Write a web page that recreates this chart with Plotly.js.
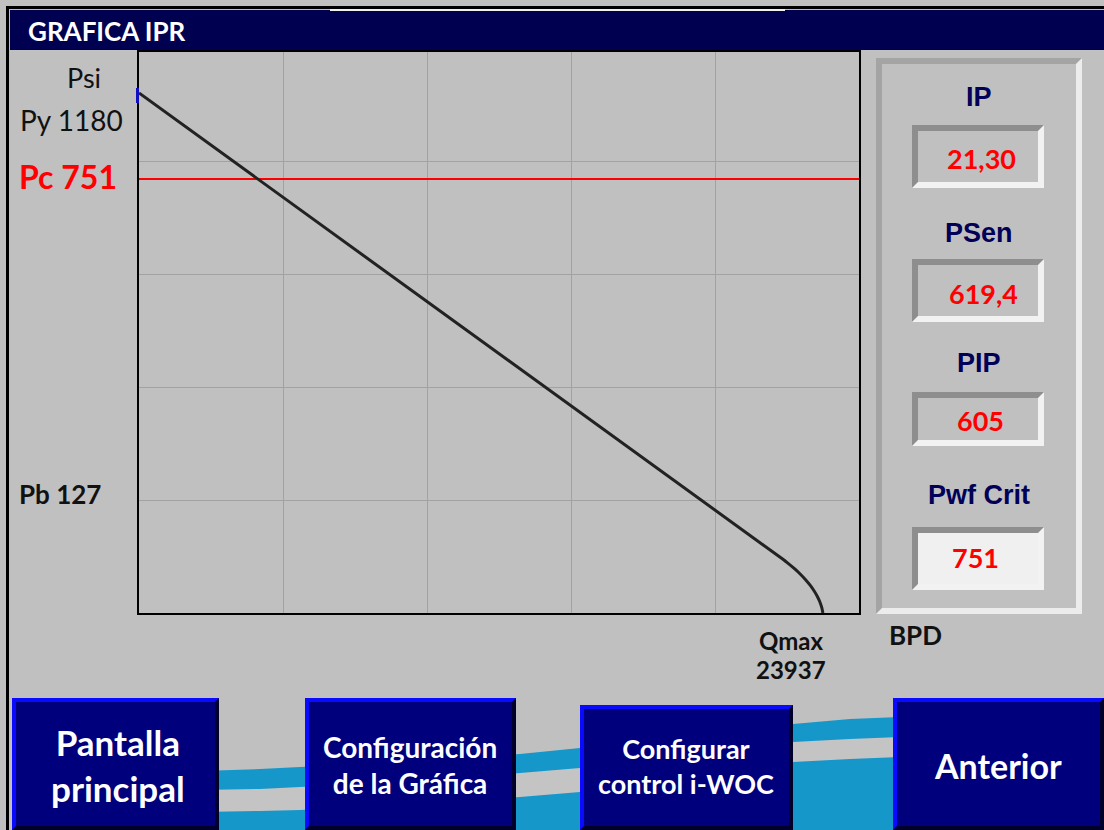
<!DOCTYPE html>
<html><head><meta charset="utf-8">
<script src="https://cdn.plot.ly/plotly-3.0.1.min.js"></script>
<style>html,body{margin:0;padding:0;background:#c0c0c0;overflow:hidden}#chart{width:1104px;height:830px}</style>
</head><body><div id="chart"></div>
<script>
// ---- data ----
const flowBPD     = [0, 22429, 22675, 22952, 23149, 23338, 23502, 23631, 23747, 23831, 23898, 23937];
const pressurePsi = [1180, 127, 115, 100, 88, 75, 62, 50, 37, 25, 12, 0];
const pcLineFlow  = [0, 25200];
const pcLinePsi   = [985, 985];
const axisRangeQ  = [0, 25200];
const axisRangeP  = [0, 1273];
const leftLabels  = ["Psi", "Py 1180", "Pc 751", "Pb 127"];
const panelLabels = ["IP", "PSen", "PIP", "Pwf Crit"];
const panelValues = ["21,30", "619,4", "605", "751"];
const qmaxLabel   = ["Qmax", "23937"];
const unitLabel   = "BPD";
const screenTitle = "GRAFICA IPR";
const buttonLabels = ["Pantalla<br>principal", "Configuración<br>de la Gráfica", "Configurar<br>control i-WOC", "Anterior"];

// ---- geometry helpers (pixel -> paper) ----
const L = 139, R = 859, T = 52, B = 613;
const X = p => (p - L) / (R - L);
const Y = p => (B - p) / (B - T);
const shapes = [];
function rect(x0, y0, x1, y1, fill) {
  shapes.push({type:'rect', xref:'paper', yref:'paper', x0:X(x0), x1:X(x1), y0:Y(y1), y1:Y(y0),
    fillcolor:fill, line:{width:0}, layer:'above'});
}
function poly(pts, fill) {
  const d = pts.map((p, i) => (i ? 'L' : 'M') + X(p[0]).toFixed(5) + ',' + Y(p[1]).toFixed(5)).join(' ') + ' Z';
  shapes.push({type:'path', xref:'paper', yref:'paper', path:d, fillcolor:fill, line:{width:0}, layer:'above'});
}
function bevel(x0, y0, x1, y1, w, tl, br, fill) {
  rect(x0, y0, x1, y1, tl);
  poly([[x1, y0], [x1, y1], [x0, y1], [x0 + w, y1 - w], [x1 - w, y1 - w], [x1 - w, y0 + w]], br);
  rect(x0 + w, y0 + w, x1 - w, y1 - w, fill);
}
function band(top, bot, fill) { poly(top.concat(bot.slice().reverse()), fill); }

// outer window border and title bar
rect(6, 6, 1104, 9, '#000000');
rect(6, 6, 9, 830, '#000000');
rect(10, 10, 1104, 50, '#000050');
rect(330, 9, 785, 11, '#f0f0f0');

// decorative wave behind the buttons
band([[200,771],[260,769],[300,767],[420,761],[520,754],[580,748],[680,735],[793,724],[850,719],[900,717]],
     [[200,830],[900,830]], '#1597c9');
band([[200,790],[260,789],[300,787],[420,781],[520,773],[580,768],[680,754],[793,742],[850,739],[900,737]],
     [[200,812],[260,811],[300,810],[420,804],[520,797],[580,792],[680,776],[793,762],[850,759],[900,757]], '#c4c4c4');

// right panel
bevel(876, 58, 1082, 614, 6, '#a4a4a4', '#ececec', '#c0c0c0');
const boxY = [[125,188],[259,322],[392,446],[527,590]];
boxY.forEach((b, i) => bevel(912, b[0], 1044, b[1], 6, '#8e8e8e', '#f2f2f2', i === 3 ? '#f0f0f0' : '#c0c0c0'));

// buttons
const btns = [[12,698,219,830],[305,698,516,830],[580,705,793,830],[893,698,1104,830]];
btns.forEach(b => bevel(b[0], b[1], b[2], b[3], 4, '#0a0aff', '#00002a', '#00007c'));

// small blue tick at the Py mark
rect(136, 88, 139, 103, '#1010c0');

// ---- annotations ----
const ann = [];
function txt(x, y, t, size, color, family, xanchor) {
  ann.push({xref:'paper', yref:'paper', x:X(x), y:Y(y), text:t, showarrow:false,
    xanchor:xanchor || 'center', yanchor:'middle', align:'center',
    font:{size:size, color:color, family:family}});
}
const MY = 'Lato';
txt(26, 31, '<b>' + screenTitle + '</b>', 26, '#ffffff', MY, 'left');
txt(84, 77, leftLabels[0], 27, '#111111', MY);
txt(71, 120, leftLabels[1], 28, '#111111', MY);
txt(68, 176, '<b>' + leftLabels[2] + '</b>', 32, '#ff0000', MY);
txt(60, 494, '<b>' + leftLabels[3] + '</b>', 26, '#111111', MY);
txt(791, 640, '<b>' + qmaxLabel[0] + '</b>', 24, '#111111', MY);
txt(791, 669, '<b>' + qmaxLabel[1] + '</b>', 24, '#111111', MY);
txt(915, 635, '<b>' + unitLabel + '</b>', 26, '#111111', MY);
const labY = [97, 233, 363, 495];
const valY = [159, 293, 420, 557];
const valX = [981, 983, 980, 975];
panelLabels.forEach((t, i) => txt(979, labY[i], '<b>' + t + '</b>', 27, '#000058', 'Liberation Sans'));
panelValues.forEach((t, i) => txt(valX[i], valY[i], '<b>' + t + '</b>', 27, '#ff0000', MY));
const btnTxt = [[118, 765, 35], [410, 765, 28], [686, 766, 27], [998, 765, 34]];
buttonLabels.forEach((t, i) => txt(btnTxt[i][0], btnTxt[i][1], '<b>' + t + '</b>', btnTxt[i][2], '#ffffff', MY));

// ---- traces ----
const traces = [
  {x: pcLineFlow, y: pcLinePsi, mode:'lines', line:{color:'#ff0000', width:2}, hoverinfo:'skip'},
  {x: flowBPD, y: pressurePsi, mode:'lines', line:{color:'#222222', width:3, shape:'spline', smoothing:0.6}, hoverinfo:'skip'}
];

const axisCommon = {showline:true, mirror:true, linecolor:'#000000', linewidth:2, showgrid:true,
  gridcolor:'#a2a2a2', gridwidth:1, zeroline:false, showticklabels:false, ticks:'', fixedrange:true};

const layout = {
  width:1104, height:830,
  margin:{l:L, r:1104 - R, t:T, b:830 - B, pad:0},
  paper_bgcolor:'#c0c0c0', plot_bgcolor:'#c0c0c0',
  showlegend:false,
  xaxis:Object.assign({range:axisRangeQ, dtick:5040, tick0:0}, axisCommon),
  yaxis:Object.assign({range:axisRangeP, dtick:256.4, tick0:0}, axisCommon),
  shapes: shapes, annotations: ann
};
Plotly.newPlot('chart', traces, layout, {displayModeBar:false, staticPlot:true});
</script></body></html>
